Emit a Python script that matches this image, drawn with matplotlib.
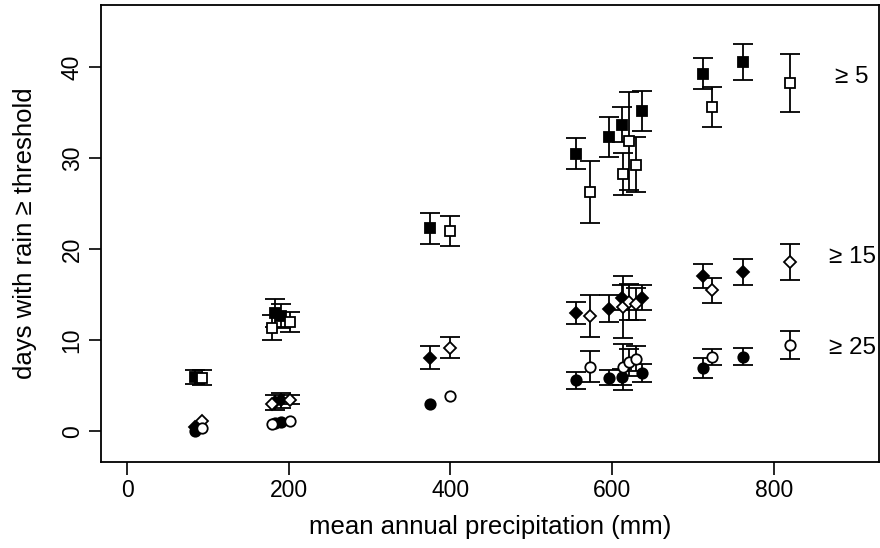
import matplotlib
matplotlib.use("Agg")
import matplotlib.pyplot as plt
import numpy as np

plt.rcParams['font.family'] = ['Liberation Sans', 'DejaVu Sans']

nan = np.nan

# station precipitation (mm)
x_filled = [84, 183, 190, 375, 555, 596, 612, 637, 712, 762]
x_open = [93, 179, 201, 400, 573, 613, 621, 630, 724, 820]

# days with rain >= 5 mm
d5_filled = [6.0, 13.0, 12.7, 22.3, 30.5, 32.4, 33.7, 35.2, 39.3, 40.6]
e5_filled = [0.8, 1.5, 1.3, 1.7, 1.7, 2.2, 1.9, 2.2, 1.7, 2.0]
d5_open = [5.9, 11.4, 12.0, 22.0, 26.3, 28.3, 31.9, 29.3, 35.6, 38.3]
e5_open = [0.8, 1.4, 1.1, 1.65, 3.4, 2.3, 5.4, 3.0, 2.2, 3.2]

# days with rain >= 15 mm
d15_filled = [0.5, 3.2, 3.4, 8.1, 13.0, 13.5, 14.7, 14.7, 17.1, 17.5]
e15_filled = [nan, 0.8, 0.8, 1.25, 1.2, 1.5, 1.4, 1.4, 1.35, 1.4]
d15_open = [1.1, 3.0, 3.5, 9.2, 12.7, 13.7, 14.2, 14.0, 15.5, 18.6]
e15_open = [nan, nan, 0.5, 1.15, 2.3, 3.4, 2.0, 1.8, 1.4, 2.0]

# days with rain >= 25 mm
d25_filled = [0.1, 0.9, 1.0, 3.0, 5.6, 5.9, 6.0, 6.4, 7.0, 8.2]
e25_filled = [nan, nan, nan, nan, 0.9, 0.85, 0.9, 1.0, 1.1, 0.95]
d25_open = [0.4, 0.8, 1.1, 3.9, 7.1, 7.1, 7.6, 8.0, 8.2, 9.5]
e25_open = [nan, nan, nan, nan, 1.7, 2.5, 1.5, 1.4, 0.9, 1.55]

threshold_labels = ["\u2265 5", "\u2265 15", "\u2265 25"]
label_x = 897
label_y = [38.9, 19.2, 9.2]

xticks = [0, 200, 400, 600, 800]
yticks = [0, 10, 20, 30, 40]

W, H = 880, 548
fig = plt.figure(figsize=(W / 100, H / 100), dpi=100)
left_px, right_px, top_px, bot_px = 101, 879, 5, 462
ax = fig.add_axes([left_px / W, 1 - bot_px / H, (right_px - left_px) / W, (bot_px - top_px) / H])

ek = dict(ecolor='black', elinewidth=1.3, capsize=7.2, capthick=1.3, linestyle='none')

series = [
    (x_filled, d5_filled, e5_filled, 's', 'black', 6.5),
    (x_open, d5_open, e5_open, 's', 'white', 6.5),
    (x_filled, d15_filled, e15_filled, 'D', 'black', 6.2),
    (x_open, d15_open, e15_open, 'D', 'white', 6.2),
    (x_filled, d25_filled, e25_filled, 'o', 'black', 7.5),
    (x_open, d25_open, e25_open, 'o', 'white', 7.5),
]
for xs, ys, es, m, fc, ms in series:
    xs = np.asarray(xs, float)
    ys = np.asarray(ys, float)
    es = np.asarray(es, float)
    ok = ~np.isnan(es)
    ax.errorbar(xs[ok], ys[ok], yerr=es[ok], fmt='none', **ek)
    ax.plot(xs, ys, linestyle='none', marker=m, markersize=ms, markerfacecolor=fc,
            markeredgecolor='black', markeredgewidth=1.3)

for lab, ly in zip(threshold_labels, label_y):
    ax.text(label_x, ly, lab, ha='center', va='center', fontsize=17.5)

ax.set_xlim((left_px - 127) / 0.8085, (right_px - 127) / 0.8085)
ax.set_ylim(-3.36, 46.86)
ax.set_xticks(xticks)
ax.set_yticks(yticks)
ax.tick_params(direction='out', length=9, width=1.2, labelsize=16.5, pad=3.5)
for lbl in ax.get_yticklabels():
    lbl.set_rotation(90)
    lbl.set_va('center')
for s in ax.spines.values():
    s.set_linewidth(1.3)
ax.set_xlabel("mean annual precipitation (mm)", fontsize=18.5, labelpad=9)
ax.set_ylabel("days with rain \u2265 threshold", fontsize=18.5, labelpad=17)

fig.savefig("out.png", dpi=100)
